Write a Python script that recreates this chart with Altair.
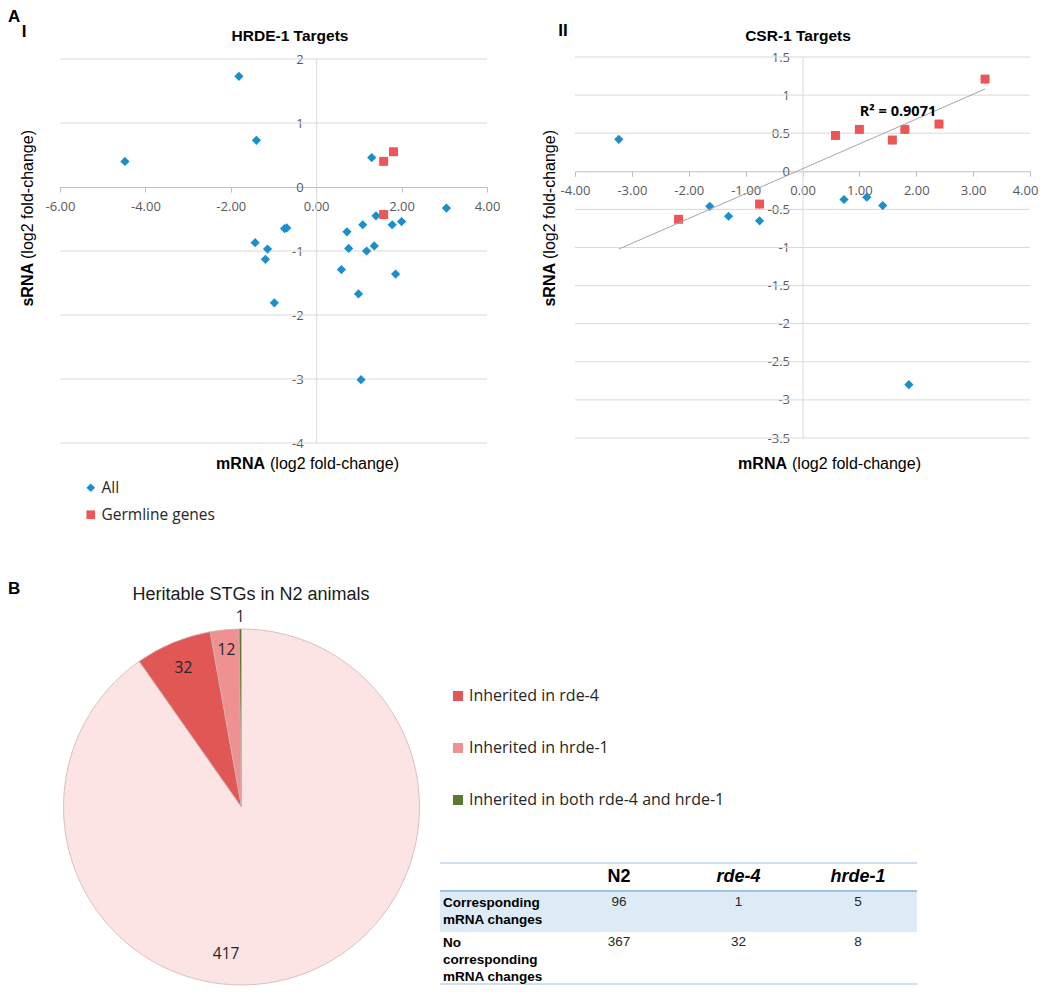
import altair as alt
import pandas as pd

# ---------------- data ----------------
# Panel A-I : HRDE-1 targets (mRNA vs sRNA log2 fold-change)
hrde_x = [-4.48, -1.81, -1.40, 1.30, 3.05, 1.40, 1.09, 1.78, 2.00, -0.74, -0.69,
          0.72, -1.43, -1.14, 0.76, 1.36, 1.18, -1.19, 0.59, 1.86, 0.99, -0.98, 1.05]
hrde_y = [0.40, 1.73, 0.73, 0.46, -0.33, -0.45, -0.59, -0.59, -0.54, -0.65, -0.64,
          -0.70, -0.87, -0.97, -0.96, -0.92, -1.00, -1.13, -1.29, -1.36, -1.67, -1.81, -3.01]
hrde_germ_x = [1.58, 1.81, 1.58]
hrde_germ_y = [0.40, 0.55, -0.43]

# Panel A-II : CSR-1 targets
csr_x = [-3.23, -1.63, -1.30, -0.755, 0.73, 1.13, 1.41, 1.87]
csr_y = [0.42, -0.46, -0.59, -0.65, -0.37, -0.34, -0.45, -2.80]
csr_germ_x = [-2.18, -0.755, 0.58, 1.00, 1.58, 1.80, 2.40, 3.21]
csr_germ_y = [-0.63, -0.43, 0.47, 0.55, 0.41, 0.55, 0.62, 1.21]

groups = ["All", "Germline genes"]

hrde_xticks = [-6, -4, -2, 0, 2, 4]
hrde_yticks = [-4, -3, -2, -1, 0, 1, 2]
csr_xticks = [-4, -3, -2, -1, 0, 1, 2, 3, 4]
csr_yticks = [-3.5, -3, -2.5, -2, -1.5, -1, -0.5, 0, 0.5, 1, 1.5]

# Panel B : pie + table
pie_categories = ["Not inherited", "Inherited in rde-4", "Inherited in hrde-1",
                  "Inherited in both rde-4 and hrde-1"]
pie_values = [417, 32, 12, 1]

table_columns = ["N2", "rde-4", "hrde-1"]
table_row_labels = ["Corresponding\nmRNA changes", "No\ncorresponding\nmRNA changes"]
corresponding = [96, 1, 5]
no_corresponding = [367, 32, 8]

# ---------------- style ----------------
BLUE = "#1A8FCB"
RED = "#EE5656"
PIE_COLORS = ["#FCE4E4", "#E15755", "#EF9191", "#5B7A2E"]
GRID = "#D9D9D9"
AXIS = "#BFBFBF"
LABEL = "#595959"
ARIAL = "Liberation Sans"
CALIBRI = "Open Sans"
TABLE_LINE = "#9DC3E6"
TABLE_FILL = "#DDEBF7"

ONE = pd.DataFrame({"t": [0]})
MINUS = "\u2212"


def text_layer(s, x, y, size, font=ARIAL, weight="normal", style="normal",
               align="center", baseline="middle", angle=0, color="#000000", lineHeight=None):
    kw = dict(text=s, fontSize=size, font=font, fontWeight=weight, fontStyle=style,
              align=align, baseline=baseline, angle=angle, color=color)
    if lineHeight is not None:
        kw["lineBreak"] = "\n"
        kw["lineHeight"] = lineHeight
    return alt.Chart(ONE).mark_text(**kw).encode(x=alt.value(x), y=alt.value(y))


def scatter_panel(ax, ay, gx, gy, xdom, xrng, ydom, yrng, xticks, yticks, w, h,
                  legend, x_last_offset=0, trend=False):
    xs = alt.Scale(domain=xdom, range=xrng, nice=False, zero=False)
    ys = alt.Scale(domain=ydom, range=yrng, nice=False, zero=False)
    # pixel location of the zero lines (axes cross at 0,0 like Excel)
    y0 = yrng[0] + (0 - ydom[0]) / (ydom[1] - ydom[0]) * (yrng[1] - yrng[0])
    x0 = xrng[0] + (0 - xdom[0]) / (xdom[1] - xdom[0]) * (xrng[1] - xrng[0])
    label_offset = 0
    if x_last_offset:
        label_offset = {"condition": {"test": f"datum.value == {xticks[-1]}",
                                      "value": x_last_offset}, "value": 0}
    xaxis = alt.Axis(orient="bottom", offset=-(h - y0), values=xticks, title=None,
                     labelExpr=f"replace(format(datum.value, '.2f'), '{MINUS}', '-')",
                     tickSize=5, tickColor=AXIS, domainColor=AXIS, grid=False,
                     labelFont=CALIBRI, labelFontSize=13, labelColor=LABEL,
                     labelPadding=8, labelFlush=False, labelOverlap=False, labelBound=False,
                     labelOffset=label_offset)
    yaxis = alt.Axis(orient="left", offset=-x0, values=yticks, title=None,
                     labelExpr=f"replace(format(datum.value, '~g'), '{MINUS}', '-')",
                     ticks=False, domainColor=GRID, grid=False,
                     labelFont=CALIBRI, labelFontSize=13, labelColor=LABEL,
                     labelPadding=13, labelFlush=False, labelOverlap=False, labelBound=False)
    X = lambda f: alt.X(f, scale=xs, axis=xaxis)
    Y = lambda f: alt.Y(f, scale=ys, axis=yaxis)

    grid_df = pd.DataFrame({"v": [t for t in yticks if t != 0],
                            "x0": xdom[0], "x1": xdom[1]})
    grid = alt.Chart(grid_df).mark_rule(color=GRID, strokeWidth=1).encode(
        y=Y("v:Q"), x=X("x0:Q"), x2="x1:Q")

    all_df = pd.DataFrame({"x": ax + gx, "y": ay + gy, "grp": groups[0]})
    germ_df = pd.DataFrame({"x": gx, "y": gy, "grp": groups[1]})
    color = alt.Color("grp:N", scale=alt.Scale(domain=groups, range=[BLUE, RED]), legend=legend)
    shape = alt.Shape("grp:N", scale=alt.Scale(domain=groups, range=["diamond", "square"]),
                      legend=legend)
    p_all = alt.Chart(all_df).mark_point(filled=True, opacity=1, size=85, strokeWidth=0).encode(
        x=X("x:Q"), y=Y("y:Q"), color=color, shape=shape)
    p_germ = alt.Chart(germ_df).mark_point(filled=True, opacity=1, size=80, strokeWidth=0).encode(
        x=X("x:Q"), y=Y("y:Q"), color=color, shape=shape)
    layers = [grid, p_all, p_germ]
    if trend:
        ext = [min(ax + gx), max(ax + gx)]
        tl = alt.Chart(germ_df).transform_regression("x", "y", extent=ext).mark_line(
            color="#A6A6A6", strokeWidth=1).encode(x=X("x:Q"), y=Y("y:Q"))
        layers.append(tl)
    return layers


# ---------------- Panel A-I ----------------
legA = alt.Legend(orient="none", legendX=75, legendY=471, title=None, padding=0,
                  labelFont=CALIBRI, labelFontSize=15.5, labelColor="#262626",
                  symbolSize=75, symbolStrokeWidth=0, rowPadding=10, labelOffset=3,
                  labelLimit=300)
W1, W2, H1 = 512, 520, 472
l1 = scatter_panel(hrde_x, hrde_y, hrde_germ_x, hrde_germ_y,
                   [-6, 4], [52, 479], [-4, 2], [434, 50],
                   hrde_xticks, hrde_yticks, W1, H1, legA)
l1 += [
    text_layer("A", 0, 0, 17, weight="bold", align="left", baseline="top"),
    text_layer("I", 16, 23, 17, weight="bold"),
    text_layer("HRDE-1 Targets", 282, 27, 15.5, weight="bold"),
    text_layer("sRNA", 20, 254, 16, weight="bold", align="right", angle=270),
    text_layer("(log2 fold-change)", 20, 250, 16, align="left", angle=270),
    text_layer("mRNA", 257, 455, 16, weight="bold", align="right"),
    text_layer("(log2 fold-change)", 262, 455, 16, align="left"),
]
panel1 = alt.layer(*l1).properties(width=W1, height=H1)

# ---------------- Panel A-II ----------------
l2 = scatter_panel(csr_x, csr_y, csr_germ_x, csr_germ_y,
                   [-4, 4], [55, 510], [-3.5, 1.5], [429, 48],
                   csr_xticks, csr_yticks, W2, H1, None, x_last_offset=-5, trend=True)
l2 += [
    text_layer("II", 43, 22, 17, weight="bold"),
    text_layer("CSR-1 Targets", 278, 27, 15.5, weight="bold"),
    text_layer("R\u00b2 = 0.9071", 378, 103, 14.5, font=CALIBRI, weight="bold"),
    text_layer("sRNA", 30, 254, 16, weight="bold", align="right", angle=270),
    text_layer("(log2 fold-change)", 30, 250, 16, align="left", angle=270),
    text_layer("mRNA", 267, 455, 16, weight="bold", align="right"),
    text_layer("(log2 fold-change)", 272, 455, 16, align="left"),
]
panel2 = alt.layer(*l2).properties(width=W2, height=H1)

# ---------------- Panel B (pie, its legend and the table) ----------------
H3 = 505
CX, CY, R = 233.5, 326, 178
PIE_LABEL_NUDGE_DEG = [23.5, 0, 0, 0]   # Excel "best fit" label placement
PIE_LABEL_RADIUS = [148, 151, 158, 190]

total = sum(pie_values)
lab, cum = [], 0
for v, nd in zip(pie_values, PIE_LABEL_NUDGE_DEG):
    lab.append(cum + v / 2 + nd / 360 * total)
    cum += v
pie_df = pd.DataFrame({"cat": pie_categories, "n": pie_values,
                       "idx": list(range(len(pie_values))), "lab": lab,
                       "r": PIE_LABEL_RADIUS})

legB = alt.Legend(orient="none", legendX=442, legendY=207, title=None, padding=0,
                  values=pie_categories[1:], symbolType="square", symbolSize=100,
                  symbolStrokeWidth=0, labelFont=CALIBRI, labelFontSize=16,
                  labelColor="#262626", rowPadding=36, labelOffset=3, labelLimit=400)
arc = alt.Chart(pie_df).mark_arc(radius=R, stroke="#CDB5B1", strokeWidth=0.8).encode(
    theta=alt.Theta("n:Q", stack=True, scale=alt.Scale(domain=[0, total])),
    color=alt.Color("cat:N", scale=alt.Scale(domain=pie_categories, range=PIE_COLORS),
                    legend=legB),
    order=alt.Order("idx:Q"),
    x=alt.value(CX), y=alt.value(CY))
pie_labels = alt.Chart(pie_df).mark_text(font=CALIBRI, fontSize=15.5, color="#262626").encode(
    theta=alt.Theta("lab:Q", stack=None, scale=alt.Scale(domain=[0, total])),
    radius=alt.Radius("r:Q", scale=alt.Scale(type="linear", domain=[0, 200], range=[0, 200],
                                              zero=True)),
    text="n:Q",
    x=alt.value(CX), y=alt.value(CY))

# table (drawn in the same view, to the right of the pie)
TX0, TX1 = 432, 909
tab_x = alt.Scale(type="point", domain=table_columns, range=[611, 850], padding=0)
head_df = pd.DataFrame({"col": table_columns})
cells_df = pd.DataFrame({"col": table_columns * 2,
                         "row": [0] * 3 + [1] * 3,
                         "val": corresponding + no_corresponding})

table_bg = alt.Chart(ONE).mark_rect(color=TABLE_FILL).encode(
    x=alt.value(TX0), x2=alt.value(TX1), y=alt.value(411), y2=alt.value(451))
rules = [
    alt.Chart(ONE).mark_rule(color=TABLE_LINE, strokeWidth=sw).encode(
        x=alt.value(TX0), x2=alt.value(TX1), y=alt.value(yy))
    for yy, sw in [(382, 1), (410, 2), (503, 1)]
]
head_n2 = alt.Chart(head_df).transform_filter(alt.datum.col == "N2").mark_text(
    font=ARIAL, fontSize=18, fontWeight="bold", baseline="middle").encode(
    x=alt.X("col:N", scale=tab_x, axis=None), y=alt.value(396), text="col:N")
head_it = alt.Chart(head_df).transform_filter(alt.datum.col != "N2").mark_text(
    font=ARIAL, fontSize=18, fontWeight="bold", fontStyle="italic", baseline="middle").encode(
    x=alt.X("col:N", scale=tab_x, axis=None), y=alt.value(396), text="col:N")
cell_layers = [
    alt.Chart(cells_df).transform_filter(alt.datum.row == ri).mark_text(
        font=ARIAL, fontSize=13.5, color="#262626", baseline="middle").encode(
        x=alt.X("col:N", scale=tab_x, axis=None), y=alt.value(yy), text="val:Q")
    for ri, yy in [(0, 421), (1, 461)]
]
row_labels = [
    text_layer(table_row_labels[0], 435, 415, 13.5, weight="bold", align="left",
               baseline="top", lineHeight=17),
    text_layer(table_row_labels[1], 435, 455, 13.5, weight="bold", align="left",
               baseline="top", lineHeight=17),
]

panel3 = alt.layer(
    text_layer("B", 0, 108, 17, weight="bold", align="left"),
    text_layer("Heritable STGs in N2 animals", 243, 114, 18, color="#1a1a1a"),
    arc, pie_labels,
    table_bg, *rules, head_n2, head_it, *cell_layers, *row_labels,
).properties(width=W1, height=H3)

chart = alt.concat(panel1, panel2, panel3, columns=2, spacing=0, bounds="flush").resolve_scale(
    color="independent", shape="independent").properties(padding=0).configure_view(
    stroke=None)

chart.save("out.html", embed_options={"renderer": "svg", "actions": False})
